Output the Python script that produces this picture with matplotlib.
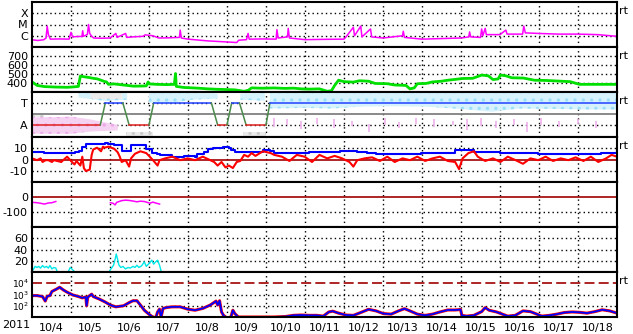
import numpy as np
import matplotlib
matplotlib.use("Agg")
import matplotlib.pyplot as plt

# ---------------- data (time in days since 2011-10-04 00:00) ----------------
day_labels = ["10/4", "10/5", "10/6", "10/7", "10/8", "10/9", "10/10", "10/11",
              "10/12", "10/13", "10/14", "10/15", "10/16", "10/17", "10/18"]

xray = [(0.00, 4.4e-7), (0.15, 3.8e-7), (0.30, 4.4e-7), (0.36, 6.3e-7), (0.39, 7.1e-6),
        (0.42, 1.3e-6), (0.47, 5.0e-7), (0.70, 5.2e-7), (0.95, 5.0e-7), (1.00, 2.0e-6),
        (1.04, 7.9e-7), (1.15, 8.5e-7), (1.28, 8.7e-7), (1.30, 2.8e-6), (1.32, 8.9e-7),
        (1.42, 1.3e-6), (1.45, 1.0e-5), (1.48, 1.6e-6), (1.52, 1.0e-6), (1.58, 6.3e-7),
        (1.80, 6.0e-7), (2.00, 6.3e-7), (2.15, 1.6e-6), (2.18, 7.1e-7), (2.40, 1.6e-6),
        (2.43, 7.1e-7), (2.60, 8.0e-7), (2.85, 8.9e-7), (2.90, 1.2e-6), (3.10, 1.0e-6),
        (3.25, 6.3e-7), (3.50, 6.5e-7), (3.78, 7.1e-7), (3.80, 3.2e-6), (3.83, 6.3e-7),
        (4.00, 5.0e-7), (4.50, 3.5e-7), (5.00, 2.8e-7), (5.25, 2.5e-7), (5.30, 4.0e-7),
        (5.50, 4.5e-7), (5.54, 1.6e-6), (5.57, 5.0e-7), (5.90, 5.2e-7), (6.26, 5.0e-7),
        (6.28, 3.5e-6), (6.31, 6.3e-7), (6.55, 7.9e-7), (6.57, 4.5e-6), (6.60, 6.3e-7),
        (7.00, 4.5e-7), (7.50, 4.8e-7), (8.00, 5.0e-7), (8.05, 7.9e-7), (8.24, 5.6e-6),
        (8.27, 1.0e-6), (8.43, 7.1e-6), (8.46, 7.9e-7), (8.68, 4.0e-6), (8.71, 7.9e-7),
        (9.00, 6.3e-7), (9.50, 1.0e-6), (9.52, 2.5e-6), (9.55, 7.1e-7), (10.00, 5.0e-7),
        (10.50, 5.6e-7), (11.00, 6.3e-7), (11.20, 7.9e-7), (11.22, 2.2e-6), (11.25, 7.9e-7),
        (11.50, 7.1e-7), (11.53, 4.0e-6), (11.56, 1.0e-6), (11.62, 4.5e-6), (11.65, 1.26e-6),
        (12.00, 1.26e-6), (12.15, 3.2e-6), (12.18, 1.4e-6), (12.58, 1.4e-6), (12.61, 7.1e-6),
        (12.65, 1.8e-6), (13.00, 1.6e-6), (13.50, 1.4e-6), (14.00, 1.4e-6), (14.50, 1.26e-6),
        (15.00, 8.9e-7)]

speed = [(0, 412), (0.06, 395), (0.13, 373), (0.32, 360), (0.6, 355), (0.9, 352), (1.1, 358),
         (1.19, 362), (1.24, 477), (1.35, 468), (1.45, 462), (1.57, 452), (1.68, 445),
         (1.77, 431), (1.85, 418), (1.91, 412), (1.96, 385), (2.1, 390), (2.3, 380),
         (2.44, 373), (2.6, 365), (2.8, 366), (2.93, 368), (2.98, 412), (3.0, 390),
         (3.2, 385), (3.45, 382), (3.65, 385), (3.68, 505), (3.70, 362), (3.9, 350),
         (4.1, 346), (4.28, 342), (4.5, 335), (4.76, 330), (5.0, 327), (5.2, 324),
         (5.44, 308), (5.55, 320), (5.63, 346), (5.9, 342), (6.2, 345), (6.5, 340),
         (6.7, 343), (6.9, 335), (7.1, 332), (7.37, 335), (7.57, 308), (7.68, 315),
         (7.76, 373), (7.86, 431), (8.0, 415), (8.24, 410), (8.4, 425), (8.63, 420),
         (8.8, 395), (9.11, 392), (9.3, 378), (9.59, 373), (9.69, 335), (9.8, 345),
         (9.88, 392), (10.1, 395), (10.27, 412), (10.5, 420), (10.66, 431), (10.85, 440),
         (11.04, 450), (11.3, 452), (11.53, 488), (11.7, 480), (11.82, 438), (11.95, 445),
         (12.01, 488), (12.15, 480), (12.3, 458), (12.6, 455), (12.88, 431), (13.2, 428),
         (13.56, 420), (13.8, 415), (14.04, 385), (14.5, 385), (15.0, 385)]

sector_t = [0, 1.75, 1.88, 2.33, 2.49, 3.0, 3.12, 4.6, 4.76, 5.0, 5.12, 5.32, 5.49, 6.0, 6.1, 15]
sector_v = [-1, -1, 1, 1, -1, -1, 1, 1, -1, -1, 1, 1, -1, -1, 1, 1]

# light-blue / pink / gray angle clouds: (t, low, high) segments
cloud_blue = [[(1.19, 1.5, 1.9), (1.86, 1.2, 1.95), (2.44, 1.3, 1.9)],
              [(3.0, 1.0, 1.95), (3.5, 0.95, 1.95), (4.1, 1.3, 1.9), (4.76, 1.4, 1.85)],
              [(5.34, 1.3, 1.85), (5.97, 1.2, 1.9)],
              [(6.1, 0.5, 1.95), (7.0, 0.55, 1.95), (7.7, 0.5, 1.95), (8.5, 0.68, 1.95),
               (9.5, 0.7, 1.95), (10.2, 0.65, 1.95), (11.0, 0.45, 1.95), (11.6, 0.25, 1.95),
               (11.8, 0.2, 1.95), (12.5, 0.5, 1.95), (13.5, 0.45, 1.95), (14.2, 0.4, 1.95),
               (15.0, 0.4, 1.95)]]
cloud_pink = [[(0.0, -1.8, -0.3), (0.5, -1.8, -0.3), (1.0, -1.8, -0.25), (1.5, -1.6, -0.5),
               (2.2, -1.5, -1.0)]]
cloud_gray = [[(0.0, -0.3, 0.1), (0.3, -0.3, 0.1)],
              [(1.5, 1.4, 1.95), (2.3, 1.4, 1.95)],
              [(2.4, -2.0, -1.6), (3.1, -2.0, -1.6)],
              [(5.4, -2.0, -1.6), (6.0, -2.0, -1.6)]]
pink_strokes = [(6.2, -1.2, -0.4), (6.55, -1.0, -0.5), (6.9, -1.4, -0.6), (7.3, -0.9, -0.4),
                (7.75, -1.3, -0.5), (8.2, -1.1, -0.6), (8.65, -1.6, -0.9), (9.05, -1.0, -0.4),
                (9.4, -1.3, -0.7), (9.85, -0.9, -0.4), (10.3, -1.2, -0.5), (10.8, -1.0, -0.6),
                (11.15, -1.5, -0.5), (11.5, -1.1, -0.4), (11.9, -1.3, -0.6), (12.35, -1.0, -0.5),
                (12.7, -1.6, -0.7), (13.05, -1.0, -0.4), (13.5, -1.2, -0.6), (14.0, -0.9, -0.5),
                (14.45, -1.3, -0.6)]

bt = [(0, 6.5), (0.3, 6.0), (0.6, 5.8), (0.9, 5.7), (1.1, 6.3), (1.2, 7.5), (1.29, 11),
      (1.38, 14), (1.55, 13.5), (1.7, 14.2), (1.86, 15), (1.95, 13.5), (2.1, 13.0),
      (2.25, 12.5), (2.32, 7.5), (2.45, 7.3), (2.54, 12.5), (2.7, 13.2), (2.83, 12.8),
      (2.93, 9.5), (3.02, 9.3), (3.07, 5.7), (3.2, 4.5), (3.27, 3.8), (3.6, 2.5), (3.9, 2.8),
      (4.18, 2.5), (4.23, 5), (4.4, 6.5), (4.52, 9), (4.65, 10), (4.76, 10.5), (4.9, 11),
      (5.05, 10.5), (5.1, 8.3), (5.2, 6.3), (5.5, 6.5), (5.75, 6.3), (5.92, 8.3), (6.1, 7.5),
      (6.21, 5.7), (6.5, 5.5), (6.8, 6), (7.1, 6.5), (7.28, 7), (7.6, 6.8), (7.9, 7.5),
      (8.1, 7.6), (8.34, 6.3), (8.6, 6.0), (8.82, 5), (9.2, 5.2), (9.6, 5.0), (9.98, 5.7),
      (10.3, 5.8), (10.6, 6.2), (10.85, 8.3), (11.1, 8.3), (11.33, 6.3), (11.7, 6.5),
      (12.0, 6.2), (12.2, 5.7), (12.6, 5.6), (12.98, 5), (13.4, 5.2), (13.8, 5.0),
      (14.2, 5.3), (14.6, 5.5), (14.82, 6.2), (15, 7.3)]

bz = [(0, 1.0), (0.13, -0.6), (0.22, 1.0), (0.27, -2.2), (0.35, -0.6), (0.42, -0.6),
      (0.51, -2.2), (0.56, -0.6), (0.75, -2.2), (0.8, -0.6), (0.9, 2.5), (1.0, -1.3),
      (1.09, -4.4), (1.14, -1.3), (1.24, -5.4), (1.29, 2.5), (1.33, -7.6), (1.38, -10.2),
      (1.48, -9.0), (1.53, 4.1), (1.57, 8.9), (1.67, 10.5), (1.77, 7.3), (1.82, 11.4),
      (1.86, 10.5), (1.96, 11.4), (2.11, 9.5), (2.2, 6.3), (2.25, 2.5), (2.3, -2.2),
      (2.4, -0.6), (2.49, -6.3), (2.54, 1.0), (2.64, 5.1), (2.78, 7.3), (2.93, 5.7),
      (3.02, 2.5), (3.12, -1.3), (3.22, -5.4), (3.27, -0.6), (3.41, 1.0), (3.6, 2.5),
      (3.8, -0.6), (3.99, 1.0), (4.18, -0.6), (4.38, 2.5), (4.57, -0.6), (4.67, -2.2),
      (4.76, -5.4), (4.86, -2.2), (4.96, -7.0), (5.05, -5.4), (5.15, -7.6), (5.25, -2.2),
      (5.34, -1.3), (5.44, 4.1), (5.54, 2.5), (5.63, 5.7), (5.73, 3.2), (5.92, 7.3),
      (6.12, 5.7), (6.21, 4.1), (6.41, 2.5), (6.6, -1.3), (6.79, 4.1), (6.99, 2.5),
      (7.18, -2.2), (7.37, 4.1), (7.57, 1.0), (7.76, 3.2), (7.95, 1.0), (8.14, -2.2),
      (8.24, -6.3), (8.34, -0.6), (8.53, 1.0), (8.72, 1.9), (8.92, -1.3), (9.11, 2.5),
      (9.3, -2.2), (9.5, 1.0), (9.69, -0.6), (9.88, 2.5), (10.08, -1.3), (10.27, 1.0),
      (10.46, 2.5), (10.66, -1.3), (10.85, -2.2), (10.95, -8.6), (11.04, 1.0), (11.19, 5.7),
      (11.33, 7.3), (11.43, 2.5), (11.62, -1.3), (11.82, 1.0), (12.01, -2.2), (12.2, 2.5),
      (12.4, -0.6), (12.59, -3.8), (12.78, 1.0), (12.98, -0.6), (13.17, 2.5), (13.36, -1.3),
      (13.56, 1.0), (13.75, -0.6), (13.94, 1.9), (14.14, -1.3), (14.33, 2.5), (14.52, -2.2),
      (14.72, 1.0), (14.86, 4.1), (15, 2.5)]

dst = [[(0.03, -36), (0.13, -38), (0.22, -42), (0.32, -47), (0.42, -40), (0.51, -38),
        (0.61, -30)],
       [(0.99, -32), (1.01, -32)],
       [(2.01, -38), (2.08, -42), (2.13, -53), (2.17, -36), (2.3, -24), (2.4, -21),
        (2.49, -23), (2.59, -27), (2.69, -32), (2.78, -28), (2.88, -30), (2.98, -38),
        (3.02, -42), (3.1, -34), (3.17, -40), (3.27, -47)]]

cyan = [[(0.03, 4), (0.08, 10), (0.13, 8), (0.17, 10), (0.22, 7), (0.27, 11.5), (0.32, 8),
         (0.37, 10), (0.42, 7), (0.46, 11.5), (0.51, 5.5), (0.56, 8), (0.61, 7), (0.64, 2)],
        [(0.94, 2), (0.98, 8), (1.02, 5.5), (1.07, 2)],
        [(1.99, 2), (2.04, 7), (2.09, 12), (2.13, 22), (2.16, 32), (2.19, 24), (2.23, 12),
         (2.28, 8), (2.33, 10), (2.4, 5.5), (2.46, 8), (2.52, 7), (2.59, 10), (2.64, 8),
         (2.69, 12), (2.74, 8), (2.81, 11), (2.88, 18), (2.93, 10), (3.0, 15), (3.07, 21),
         (3.12, 14), (3.17, 18), (3.22, 21), (3.27, 12), (3.31, 2)]]

electron = [(0, 800), (0.13, 800), (0.27, 660), (0.34, 260), (0.39, 700), (0.46, 800),
            (0.51, 1860), (0.61, 2800), (0.71, 4400), (0.8, 2600), (0.9, 1600), (1.04, 930),
            (1.19, 660), (1.29, 500), (1.38, 600), (1.4, 100), (1.43, 600), (1.53, 1070),
            (1.57, 660), (1.72, 400), (1.86, 230), (2.01, 115), (2.15, 80), (2.35, 100),
            (2.49, 190), (2.59, 280), (2.69, 280), (2.78, 115), (2.88, 40), (2.98, 20),
            (3.07, 11.5), (3.17, 8), (3.22, 28), (3.27, 50), (3.31, 10), (3.36, 58),
            (3.46, 71), (3.6, 80), (3.8, 80), (3.99, 50), (4.18, 40), (4.38, 58), (4.57, 115),
            (4.72, 260), (4.76, 115), (4.81, 280), (4.86, 28), (4.91, 14), (5.0, 8), (5.1, 10),
            (5.15, 40), (5.2, 20), (5.29, 10), (5.54, 10), (6.21, 10), (6.5, 11), (6.7, 14),
            (6.9, 15), (7.1, 14), (7.3, 14), (7.47, 12), (7.61, 28), (7.71, 33), (7.86, 22),
            (8.05, 15), (8.24, 14), (8.43, 25), (8.63, 48), (8.82, 35), (9.01, 20),
            (9.21, 18), (9.4, 35), (9.55, 55), (9.69, 35), (9.88, 18), (10.08, 14),
            (10.27, 18), (10.46, 28), (10.66, 42), (10.85, 42), (10.99, 46), (11.02, 14),
            (11.14, 12), (11.33, 14), (11.53, 30), (11.62, 68), (11.72, 40), (11.91, 28),
            (12.1, 16), (12.2, 12), (12.39, 14), (12.49, 22), (12.59, 35), (12.78, 30),
            (12.98, 16), (13.07, 12), (13.27, 14), (13.46, 18), (13.65, 25), (13.85, 28),
            (14.04, 26), (14.23, 22), (14.43, 30), (14.62, 44), (14.81, 35), (15.0, 22)]

# ---------------- layout ----------------
plt.rcParams['font.family'] = ['DejaVu Sans']
plt.rcParams['hatch.linewidth'] = 1.2
W, H = 633, 334
fig = plt.figure(figsize=(W / 100, H / 100), dpi=100)
L, R = 32, 617
tops = [2, 47, 92, 137, 182, 227, 272]
PH = 45
DOT = (0, (1, 2.2))
DARKRED = '#a00000'

axes = []
for t in tops:
    ax = fig.add_axes([L / W, 1 - (t + PH) / H, (R - L) / W, PH / H])
    ax.set_xlim(0, 15)
    for s in ax.spines.values():
        s.set_linewidth(1.5)
        s.set_color('black')
        s.set_zorder(6)
    ax.tick_params(length=0, labelsize=8, pad=3)
    ax.set_xticks([])
    for d in range(1, 15):
        ax.axvline(d, color='black', ls=DOT, lw=1.0, zorder=1)
    axes.append(ax)


def xy(pairs):
    a = np.array(pairs, dtype=float)
    return a[:, 0], a[:, 1]


def hgrid(ax, vals):
    for v in vals:
        ax.axhline(v, color='black', ls=DOT, lw=1.0, zorder=1)


# Panel 1: X-ray
ax = axes[0]
ax.set_yscale('log')
ax.set_ylim(1e-7, 1e-3)
ax.minorticks_off()
ax.set_yticks([1e-6, 1e-5, 1e-4], ['C', 'M', 'X'])
hgrid(ax, [1e-6, 1e-5, 1e-4])
t, v = xy(xray)
ax.plot(t, v, color='#ff00ff', lw=1.1, zorder=3)

# Panel 2: speed
ax = axes[1]
ax.set_ylim(300, 800)
ax.set_yticks([400, 500, 600, 700], ['400', '500', '600', '700'])
hgrid(ax, [400, 500, 600, 700])
t, v = xy(speed)
ax.plot(t, v, color='#00e000', lw=2.0, zorder=3)

# Panel 3: sector
ax = axes[2]
ax.set_ylim(-2.1, 2.0)
ax.set_yticks([1, -1], ['T', 'A'])
for seg in cloud_blue:
    a = np.array(seg)
    ax.fill_between(a[:, 0], a[:, 1], a[:, 2], facecolor='#d6f3fd', edgecolor='#9edff8',
                    hatch='..', lw=0, zorder=2)
for seg in cloud_pink:
    a = np.array(seg)
    ax.fill_between(a[:, 0], a[:, 1], a[:, 2], facecolor='#f6d2f2', edgecolor='#eca8e8',
                    hatch='..', lw=0, zorder=2)
for seg in cloud_gray:
    a = np.array(seg)
    ax.fill_between(a[:, 0], a[:, 1], a[:, 2], facecolor='#ebebeb', edgecolor='#cccccc',
                    hatch='..', lw=0, zorder=2)
for (tt, lo, hi) in pink_strokes:
    ax.vlines(tt, lo, hi, color='#f0b0ec', lw=1.2, zorder=2)
hgrid(ax, [1, -1])
ax.axhline(0, color='#808080', lw=1.3, zorder=3)
for i in range(len(sector_t) - 1):
    x0, x1 = sector_t[i], sector_t[i + 1]
    y0, y1 = sector_v[i], sector_v[i + 1]
    if y0 != y1:
        c = '#4a8a4a'
    elif y0 > 0:
        c = '#2040ff'
    else:
        c = '#e02020'
    ax.plot([x0, x1], [y0, y1], color=c, lw=1.1, zorder=4)

# Panel 4: B field
ax = axes[3]
ax.set_ylim(-20, 20)
ax.set_yticks([10, 0, -10], ['10', '0', '-10'])
hgrid(ax, [10, -10])
ax.axhline(0, color=DARKRED, lw=1.2, zorder=2)
t, v = xy(bt)
ax.plot(t, v, color='#0000ff', lw=1.5, zorder=3, drawstyle='steps-post')
t, v = xy(bz)
ax.plot(t, v, color='#ff0000', lw=1.5, zorder=4)

# Panel 5: Dst
ax = axes[4]
ax.set_ylim(-200, 100)
ax.set_yticks([0, -100], ['0', '-100'])
hgrid(ax, [-100])
ax.axhline(0, color=DARKRED, lw=1.2, zorder=2)
for seg in dst:
    t, v = xy(seg)
    ax.plot(t, v, color='#ff00ff', lw=1.1, zorder=3)

# Panel 6
ax = axes[5]
ax.set_ylim(0, 80)
ax.set_yticks([20, 40, 60], ['20', '40', '60'])
hgrid(ax, [20, 40, 60])
for seg in cyan:
    t, v = xy(seg)
    ax.plot(t, v, color='#00e8e8', lw=1.0, zorder=3)

# Panel 7: electrons
ax = axes[6]
ax.set_yscale('log')
ax.set_ylim(10, 1e5)
ax.minorticks_off()
ax.set_yticks([1e2, 1e3, 1e4], [r'$\mathregular{10^2}$', r'$\mathregular{10^3}$',
                                 r'$\mathregular{10^4}$'])
ax.tick_params(axis='y', labelsize=6.5, pad=2)
hgrid(ax, [1e2, 1e3])
ax.axhline(1e4, color=DARKRED, lw=1.2, dashes=(6, 2.5), zorder=2)
t, v = xy(electron)
ax.plot(t, v, color='#ff0000', lw=2.2, zorder=3)
ax.plot(t, v, color='#0000ff', lw=1.3, zorder=4)
ax.set_xticks(np.arange(15) + 0.5, day_labels)
ax.tick_params(axis='x', length=0, pad=4, labelsize=8)

# right-side "rt" marks and year
for i in [0, 1, 2, 3, 6]:
    fig.text(619 / W, 1 - (tops[i] + 9) / H, 'rt', fontsize=8, va='center', ha='left')
fig.text(2 / W, 1 - 325 / H, '2011', fontsize=8, va='center', ha='left')

fig.savefig('out.png', dpi=100)
